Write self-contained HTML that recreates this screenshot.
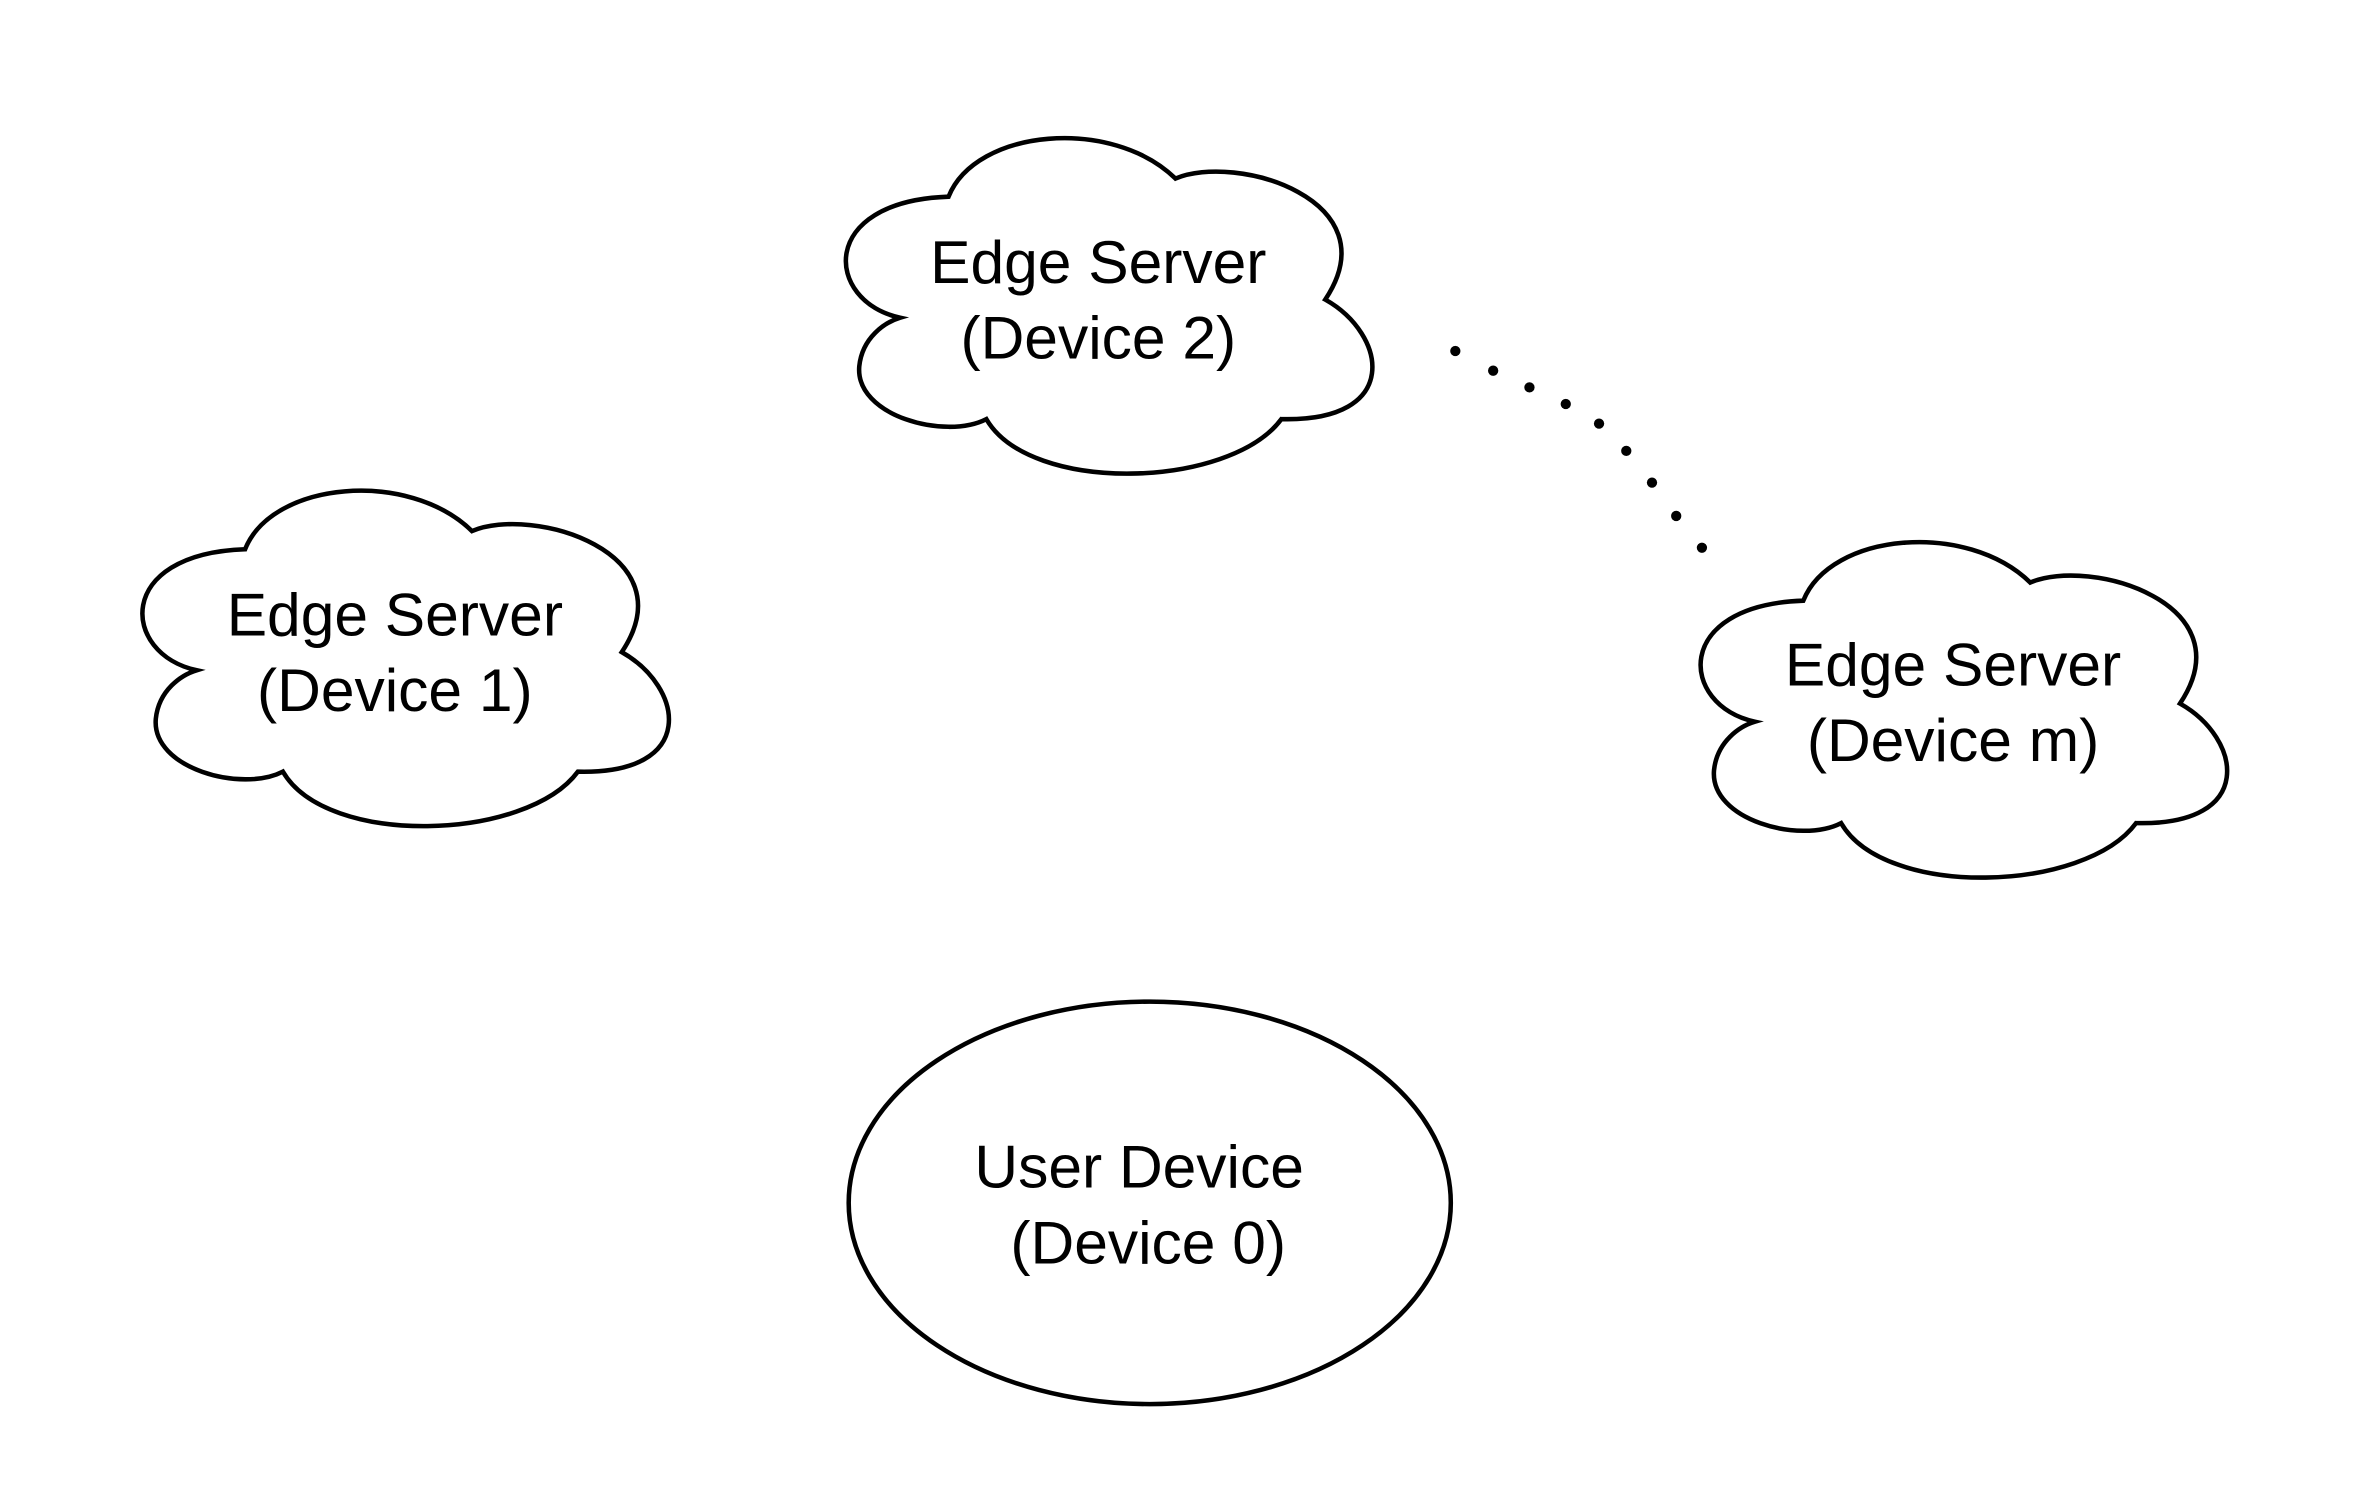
<!DOCTYPE html>
<html><head><meta charset="utf-8"><style>
html,body{margin:0;padding:0;background:#fff;}
svg{display:block;}
text{font-family:"Liberation Sans",sans-serif;font-size:40px;fill:#000;text-anchor:middle;}
</style></head><body>
<svg width="2360" height="1510" viewBox="0 0 1560 998" preserveAspectRatio="none" xmlns="http://www.w3.org/2000/svg">
<defs>
<path id="cl" d="M632,133 C650,88 740,80 782,121 C822,104 925,135 881,201 C922,224 932,282 852,280 C818,326 686,330 657,280 C630,294 570,278 573,245 C575,226 590,216 600,213 C550,202 545,136 632,133 Z" fill="#fff" stroke="#000" stroke-width="3"/>
</defs>
<g transform="translate(-5,-3)">
<use href="#cl"/>
<use href="#cl" transform="translate(-465,233)"/>
<use href="#cl" transform="translate(565,267)"/>
<text x="731" y="190">Edge Server</text>
<text x="731" y="240">(Device 2)</text>
<text x="266" y="423">Edge Server</text>
<text x="266" y="473">(Device 1)</text>
<text x="1296" y="456">Edge Server</text>
<text x="1296" y="506">(Device m)</text>
<ellipse cx="765" cy="798" rx="199" ry="133" fill="#fff" stroke="#000" stroke-width="3"/>
<text x="758" y="788">User Device</text>
<text x="764" y="838">(Device 0)</text>
<g fill="#000">
<circle cx="967" cy="235" r="3.4"/><circle cx="992" cy="248" r="3.4"/><circle cx="1016" cy="259" r="3.4"/>
<circle cx="1040" cy="270" r="3.4"/><circle cx="1062" cy="283" r="3.4"/><circle cx="1080" cy="301" r="3.4"/>
<circle cx="1097" cy="322" r="3.4"/><circle cx="1113" cy="344" r="3.4"/><circle cx="1130" cy="365" r="3.4"/>
</g>
</g>
</svg>
</body></html>
